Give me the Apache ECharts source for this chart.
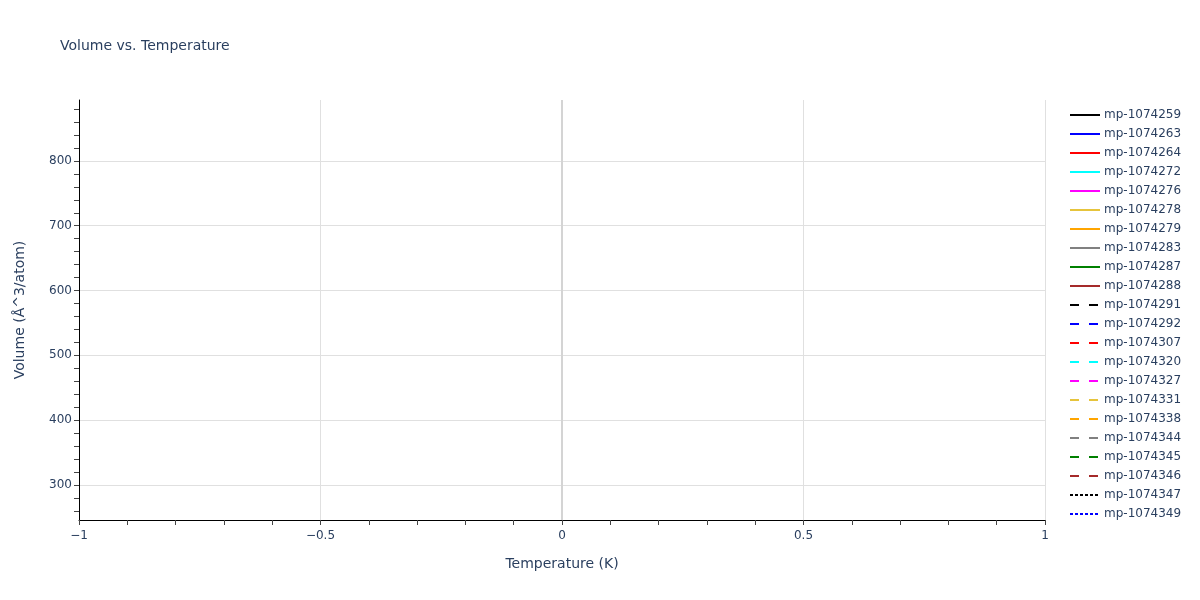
<!DOCTYPE html>
<html>
<head>
<meta charset="utf-8">
<script src="https://cdn.jsdelivr.net/npm/echarts@6/dist/echarts.min.js"></script>
<style>html,body{margin:0;padding:0;background:#fff;}#chart{width:1200px;height:600px;}</style>
</head>
<body>
<div id="chart"></div>
<script>
var seriesNames = ['mp-1074259','mp-1074263','mp-1074264','mp-1074272','mp-1074276','mp-1074278','mp-1074279','mp-1074283','mp-1074287','mp-1074288','mp-1074291','mp-1074292','mp-1074307','mp-1074320','mp-1074327','mp-1074331','mp-1074338','mp-1074344','mp-1074345','mp-1074346','mp-1074347','mp-1074349'];
var seriesColors = ['#000000','#0000ff','#ff0000','#00ffff','#ff00ff','#e6c43c','#ffa500','#808080','#008000','#a52a2a','#000000','#0000ff','#ff0000','#00ffff','#ff00ff','#e6c43c','#ffa500','#808080','#008000','#a52a2a','#000000','#0000ff'];
var seriesDash = ['solid','solid','solid','solid','solid','solid','solid','solid','solid','solid','dashed','dashed','dashed','dashed','dashed','dashed','dashed','dashed','dashed','dashed','dotted','dotted'];
// Temperature (K) / Volume pairs per series: nothing is visible in the reference plot area
var seriesData = seriesNames.map(function(){ return []; });
var xTickLabels = [-1, -0.5, 0, 0.5, 1];
var yTickLabels = [300, 400, 500, 600, 700, 800];
var yMinorTicks = [260,280,300,320,340,360,380,400,420,440,460,480,500,520,540,560,580,600,620,640,660,680,700,720,740,760,780,800,820,840,860,880];

var dashMap = {solid: 'solid', dashed: [9, 10], dotted: [3, 2]};
var font = '"DejaVu Sans", Verdana, sans-serif';
var textColor = '#2a3f5f';
var gridColor = '#e0e0e0';
var yMin = 246, yMax = 894;

var series = seriesNames.map(function(n, i){
  var s = {
    name: n, type: 'line', data: seriesData[i], showSymbol: false, symbol: 'none',
    xAxisIndex: 0, yAxisIndex: 0,
    color: seriesColors[i],
    lineStyle: {color: seriesColors[i], width: 2, type: dashMap[seriesDash[i]]}
  };
  if (i === 0) {
    s.markLine = {
      silent: true, symbol: 'none', label: {show: false},
      lineStyle: {color: '#d4d4d4', width: 2, type: 'solid'},
      data: [{xAxis: 0}]
    };
  }
  return s;
});

var chart = echarts.init(document.getElementById('chart'), null, {renderer: 'canvas'});
chart.setOption({
  animation: false,
  backgroundColor: '#ffffff',
  textStyle: {fontFamily: font},
  title: {
    text: 'Volume vs. Temperature', left: 55, top: 34,
    textStyle: {fontFamily: font, fontSize: 14, fontWeight: 'normal', color: textColor}
  },
  legend: {
    orient: 'vertical', left: 1064, top: 104,
    itemWidth: 30, itemHeight: 12, itemGap: 7,
    data: seriesNames,
    itemStyle: {color: 'transparent', borderColor: 'transparent', borderWidth: 0, opacity: 0},
    textStyle: {fontFamily: font, fontSize: 12, color: textColor, padding: [0,0,0,-1]}
  },
  grid: {left: 79, right: 155, top: 100, bottom: 80, containLabel: false},
  xAxis: {
    type: 'value', min: -1, max: 1, interval: 0.5,
    name: 'Temperature (K)', nameLocation: 'middle', nameGap: 37,
    nameTextStyle: {fontFamily: font, fontSize: 14, color: textColor},
    axisLine: {show: true, onZero: false, lineStyle: {color: '#000', width: 1}},
    axisTick: {show: true, length: 5, lineStyle: {color: '#444'}},
    minorTick: {show: true, splitNumber: 5, length: 5, lineStyle: {color: '#444'}},
    axisLabel: {fontFamily: font, fontSize: 12, color: textColor, margin: 10,
      formatter: function(v){ return String(v).replace('-', '\u2212'); }},
    splitLine: {show: true, lineStyle: {color: gridColor, width: 1}}
  },
  yAxis: [{
    type: 'value', min: yMin, max: yMax, position: 'left',
    name: 'Volume (Å^3/atom)', nameLocation: 'middle', nameGap: 52,
    nameTextStyle: {fontFamily: font, fontSize: 14, color: textColor},
    axisLine: {show: false, onZero: false},
    axisTick: {show: false},
    axisLabel: {fontFamily: font, fontSize: 12, color: textColor, margin: 7, customValues: yTickLabels},
    splitLine: {show: true, showMinLine: false, showMaxLine: false, lineStyle: {color: gridColor, width: 1}}
  }, {
    type: 'value', min: yMin, max: yMax, position: 'left', offset: 0,
    axisLine: {show: true, onZero: false, lineStyle: {color: '#000', width: 1}},
    axisTick: {show: true, length: 5, lineStyle: {color: '#444'}, customValues: yMinorTicks},
    axisLabel: {show: false},
    splitLine: {show: false}
  }],
  series: series
});
</script>
</body>
</html>
